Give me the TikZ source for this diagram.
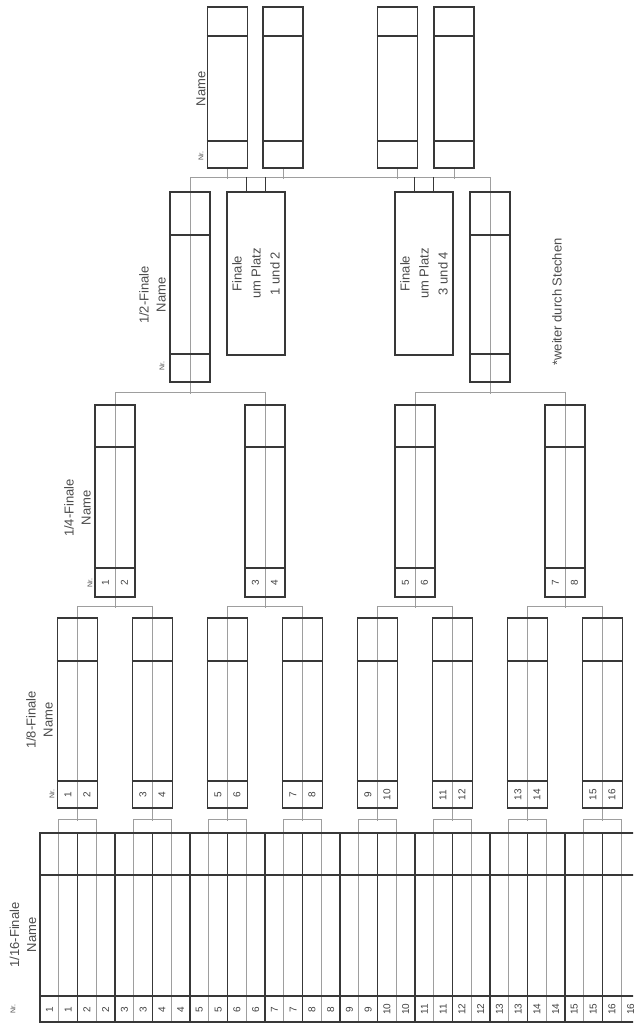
\documentclass[tikz,border=0pt]{standalone}
\usepackage{fontspec}
\setmainfont{Liberation Sans}
\usetikzlibrary{calc}
\pgfdeclarelayer{back}
\pgfdeclarelayer{bg}
\pgfsetlayers{back,bg,main}
\begin{document}
\begin{tikzpicture}[x=1pt,y=-1pt,
  frame/.style={draw=black!78, line width=1.6pt},
  conn/.style={draw=black!38, line width=0.9pt},
  cell/.style={frame, rectangle, inner sep=0pt, minimum width=#1},
  lbl/.style={rotate=90, text=black!70, font=\fontsize{13}{17}\selectfont, align=center, inner sep=0pt},
  fin/.style={rotate=90, text=black!70, font=\fontsize{13}{19}\selectfont, align=center, inner sep=0pt},
  nr/.style={rotate=90, text=black!70, font=\fontsize{7}{8}\selectfont, inner sep=0pt},
  num/.style={rotate=90, text=black!75, font=\fontsize{10}{11}\selectfont, inner sep=0pt}]
\useasboundingbox (0,0) rectangle (633,1023);
\clip (0,0) rectangle (633,1023);
\begin{pgfonlayer}{back}
  \fill[white] (0,0) rectangle (633,1023);
\end{pgfonlayer}

% ---------- 1/16 table ----------
\foreach \g in {1,...,16}{
  \pgfmathsetmacro{\cx}{40+37.5*(\g-1)+18.75}
  \node[cell=37.5pt, minimum height=189pt] (s\g) at (\cx,927.5) {};
  \begin{pgfonlayer}{bg}
    \draw[conn] (s\g.north) -- (s\g.south);
  \end{pgfonlayer}
  \node[num] (sa\g) at ($(s\g.south)+(-9.4,-13.5)$) {\g};
  \node[num] (sb\g) at ($(s\g.south)+(9.4,-13.5)$) {\g};
}
\draw[frame] ($(s1.north west)+(0,43)$) -- ($(s16.north east)+(0,43)$);
\draw[frame] ($(s1.south west)+(0,-27)$) -- ($(s16.south east)+(0,-27)$);

% ---------- 1/8 boxes ----------
\foreach \k in {1,...,8}{
  \pgfmathsetmacro{\cx}{77.5+75*(\k-1)}
  \pgfmathtruncatemacro{\a}{2*\k-1}
  \pgfmathtruncatemacro{\b}{2*\k}
  \node[cell=40pt, minimum height=190pt] (e\k) at (\cx,713) {};
  \draw[frame] ($(e\k.north west)+(0,44)$) -- ($(e\k.north east)+(0,44)$);
  \draw[frame] ($(e\k.south west)+(0,-28)$) -- ($(e\k.south east)+(0,-28)$);
  \begin{pgfonlayer}{bg}
    \draw[conn] (e\k.north) -- (e\k.south);
    \draw[conn] (s\a.north) -- ++(0,-13) -| (s\b.north);
    \draw[conn] (e\k.south) -- ++(0,12);
  \end{pgfonlayer}
  \node[num] (ea\k) at ($(e\k.south)+(-9.5,-14)$) {\a};
  \node[num] (eb\k) at ($(e\k.south)+(9.5,-14)$) {\b};
}

% ---------- 1/4 boxes ----------
\foreach \k in {1,...,4}{
  \pgfmathsetmacro{\cx}{115+150*(\k-1)}
  \pgfmathtruncatemacro{\a}{2*\k-1}
  \pgfmathtruncatemacro{\b}{2*\k}
  \node[cell=40pt, minimum height=192pt] (q\k) at (\cx,501) {};
  \draw[frame] ($(q\k.north west)+(0,43)$) -- ($(q\k.north east)+(0,43)$);
  \draw[frame] ($(q\k.south west)+(0,-30)$) -- ($(q\k.south east)+(0,-30)$);
  \begin{pgfonlayer}{bg}
    \draw[conn] (q\k.north) -- (q\k.south);
    \draw[conn] (e\a.north) -- ++(0,-11) -| (e\b.north);
    \draw[conn] (q\k.south) -- ++(0,10);
  \end{pgfonlayer}
  \node[num] (qa\k) at ($(q\k.south)+(-9.5,-15)$) {\a};
  \node[num] (qb\k) at ($(q\k.south)+(9.5,-15)$) {\b};
}

% ---------- 1/2 boxes ----------
\foreach \k in {1,2}{
  \pgfmathsetmacro{\cx}{190+300*(\k-1)}
  \pgfmathtruncatemacro{\a}{2*\k-1}
  \pgfmathtruncatemacro{\b}{2*\k}
  \node[cell=40pt, minimum height=190pt] (h\k) at (\cx,287) {};
  \draw[frame] ($(h\k.north west)+(0,44)$) -- ($(h\k.north east)+(0,44)$);
  \draw[frame] ($(h\k.south west)+(0,-29)$) -- ($(h\k.south east)+(0,-29)$);
  \begin{pgfonlayer}{bg}
    \draw[conn] (h\k.north) -- (h\k.south);
    \draw[conn] (q\a.north) -- ++(0,-12) -| (q\b.north);
    \draw[conn] (h\k.south) -- ++(0,11);
  \end{pgfonlayer}
}
\begin{pgfonlayer}{bg}
  \draw[conn] (h1.north) -- ++(0,-14) coordinate (topl) -| (h2.north);
\end{pgfonlayer}

% ---------- Finale boxes ----------
\node[cell=58pt, minimum height=163pt] (f1) at (256,273.5) {};
\node[cell=58pt, minimum height=163pt] (f2) at (424,273.5) {};
\foreach \f in {f1,f2}{
  \draw[frame] ($(\f.north)+(-9.5,0)$) -- ++(0,-14);
  \draw[frame] ($(\f.north)+(9.5,0)$) -- ++(0,-14);
}
\node[fin] (ft1) at (f1.center) {Finale\\um Platz\\1 und 2};
\node[fin] (ft2) at (f2.center) {Finale\\um Platz\\3 und 4};

% ---------- top boxes ----------
\foreach \n/\cx in {1/227.5,2/283,3/397.5,4/454}{
  \node[cell=40pt, minimum height=161pt] (t\n) at (\cx,87.5) {};
  \draw[frame] ($(t\n.north west)+(0,30)$) -- ($(t\n.north east)+(0,30)$);
  \draw[frame] ($(t\n.south west)+(0,-28)$) -- ($(t\n.south east)+(0,-28)$);
  \begin{pgfonlayer}{bg}
    \draw[conn] (t\n.south) -- ++(0,10);
  \end{pgfonlayer}
}

% ---------- labels ----------
\node[lbl] (l16) at (23,935) {1/16-Finale\\Name};
\node[lbl] (l8) at (39.5,720) {1/8-Finale\\Name};
\node[lbl] (l4) at (77.5,508) {1/4-Finale\\Name};
\node[lbl] (l2) at (152.5,295) {1/2-Finale\\Name};
\node[lbl] (lt) at (201,89) {Name};
\node[nr] (n16) at (13,1009) {Nr.};
\node[nr] (n8) at (52,794) {Nr.};
\node[nr] (n4) at (90,583) {Nr.};
\node[nr] (n2) at (162,366) {Nr.};
\node[nr] (nt) at (201,156) {Nr.};
\node[lbl] (note) at (557,302) {*weiter durch Stechen};
\end{tikzpicture}
\end{document}
